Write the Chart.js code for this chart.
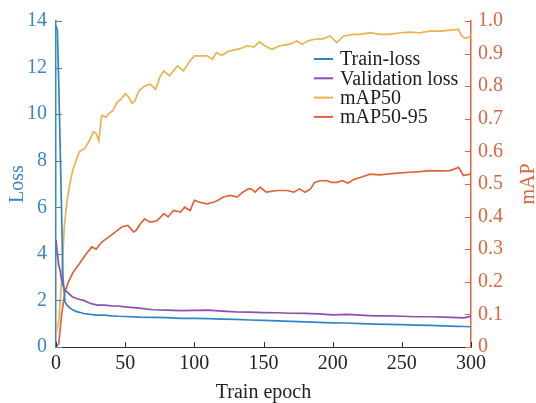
<!DOCTYPE html>
<html>
<head>
<meta charset="utf-8">
<script src="https://cdn.jsdelivr.net/npm/chart.js@4.4.1/dist/chart.umd.min.js"></script>
<style>
  html, body { margin: 0; padding: 0; background: #fff; }
</style>
</head>
<body>
<canvas id="trainChart" width="536" height="403"></canvas>
<script>
/* ---------- data ---------- */
const LOSS_EPOCHS = [0, 1, 2, 3, 4, 5, 6.5, 8, 10, 12, 15, 17, 20, 25, 30, 35, 40, 45, 50,
  60, 70, 80, 90, 100, 110, 120, 130, 140, 150, 160, 170, 180, 190, 200, 210, 220, 230,
  240, 250, 260, 270, 280, 290, 295, 300];

const TRAIN_LOSS = [13.8, 13.6, 11.3, 8.6, 5.9, 3.0, 1.93, 1.8, 1.68, 1.6, 1.52, 1.49, 1.44, 1.40,
  1.37, 1.37, 1.34, 1.32, 1.31, 1.28, 1.27, 1.26, 1.23, 1.23, 1.22, 1.20, 1.19, 1.16, 1.14,
  1.12, 1.10, 1.08, 1.06, 1.04, 1.03, 1.00, 0.98, 0.97, 0.96, 0.94, 0.93, 0.91, 0.89, 0.88, 0.87];

const VAL_LOSS = [4.6, 4.0, 3.5, 3.3, 2.9, 2.65, 2.44, 2.37, 2.25, 2.15, 2.08, 2.04, 2.0, 1.87,
  1.80, 1.80, 1.77, 1.76, 1.72, 1.67, 1.60, 1.58, 1.56, 1.57, 1.58, 1.54, 1.51, 1.50, 1.48,
  1.47, 1.45, 1.44, 1.42, 1.38, 1.40, 1.37, 1.34, 1.34, 1.32, 1.30, 1.30, 1.28, 1.26, 1.25, 1.33];

const MAP50_EPOCHS = [0, 2, 4, 6, 8, 10, 12, 14, 17, 21, 25, 27, 29, 31, 33, 36, 38, 41, 44, 47,
  50, 52, 55, 57, 60, 64, 68, 72, 75, 78, 82, 86, 88, 92, 97, 100, 104, 109, 113, 116, 120,
  125, 131, 135, 138, 143, 147, 151, 156, 162, 169, 174, 178, 182, 187, 193, 198, 203, 208,
  215, 220, 227, 234, 241, 249, 256, 263, 270, 278, 285, 291, 293, 296, 300];

const MAP50 = [0.04, 0.08, 0.20, 0.37, 0.45, 0.50, 0.54, 0.566, 0.60, 0.61, 0.64, 0.66, 0.655,
  0.633, 0.71, 0.705, 0.715, 0.725, 0.75, 0.76, 0.777, 0.77, 0.748, 0.755, 0.786, 0.80, 0.807,
  0.79, 0.827, 0.847, 0.832, 0.853, 0.862, 0.847, 0.878, 0.893, 0.893, 0.893, 0.883, 0.903,
  0.895, 0.908, 0.913, 0.918, 0.924, 0.92, 0.936, 0.924, 0.913, 0.924, 0.929, 0.939, 0.929,
  0.939, 0.944, 0.945, 0.954, 0.934, 0.954, 0.959, 0.959, 0.964, 0.959, 0.959, 0.964, 0.966,
  0.964, 0.969, 0.969, 0.972, 0.974, 0.956, 0.946, 0.954];

const MAP5095_EPOCHS = [0, 2, 4, 6.5, 9, 12.5, 17, 22, 26, 29, 33, 38, 43, 47.5, 52, 56, 58, 61,
  64, 68, 73, 78, 81, 85, 90, 93, 97, 100, 104, 109, 114, 117, 121, 126, 131, 135, 139, 141,
  144, 147.5, 152, 160, 167, 172, 176, 180, 184, 187, 191, 196, 199, 203, 207, 211, 216, 220,
  227, 234, 241, 249, 256, 263, 270, 278, 285, 291, 294.5, 300];

const MAP5095 = [0.0, 0.01, 0.098, 0.17, 0.20, 0.23, 0.256, 0.287, 0.307, 0.30, 0.322, 0.337,
  0.353, 0.368, 0.373, 0.353, 0.358, 0.378, 0.393, 0.383, 0.387, 0.409, 0.399, 0.419, 0.414,
  0.429, 0.419, 0.45, 0.444, 0.439, 0.444, 0.45, 0.46, 0.465, 0.46, 0.475, 0.485, 0.485, 0.475,
  0.49, 0.475, 0.48, 0.48, 0.475, 0.485, 0.475, 0.485, 0.505, 0.51, 0.51, 0.505, 0.505, 0.51,
  0.503, 0.515, 0.52, 0.53, 0.528, 0.531, 0.534, 0.536, 0.538, 0.541, 0.54, 0.541, 0.551,
  0.526, 0.531];

const SERIES_LABELS = ['Train-loss', 'Validation loss', 'mAP50', 'mAP50-95'];

/* ---------- styling ---------- */
const FONT = "'Liberation Serif', 'Times New Roman', serif";
const BLUE = '#3a87c2';
const RED  = '#db6640';
const COLORS = ['#2f86c6', '#8f4fb2', '#ebb24e', '#e0643c'];

const toPoints = (xs, ys) => xs.map((x, i) => ({ x, y: ys[i] }));

/* ---------- decorations: inward ticks, titles, legend ---------- */
function inwardTicks(ctx, scale, color, len) {
  ctx.strokeStyle = color;
  ctx.lineWidth = 1;
  scale.ticks.forEach((t, i) => {
    const p = Math.round(scale.getPixelForTick(i)) + 0.5;
    ctx.beginPath();
    if (scale.position === 'left') { ctx.moveTo(scale.right, p); ctx.lineTo(scale.right + len, p); }
    else if (scale.position === 'right') { ctx.moveTo(scale.left, p); ctx.lineTo(scale.left - len, p); }
    else { ctx.moveTo(p, scale.top); ctx.lineTo(p, scale.top - len); }
    ctx.stroke();
  });
}

function vText(ctx, text, x, y, color) {
  ctx.save();
  ctx.translate(x, y);
  ctx.rotate(-Math.PI / 2);
  ctx.fillStyle = color;
  ctx.textAlign = 'center';
  ctx.textBaseline = 'middle';
  ctx.fillText(text, 0, 0);
  ctx.restore();
}

const axisDecor = {
  id: 'axisDecor',
  afterDraw(chart) {
    const { ctx, chartArea: a, scales } = chart;
    ctx.save();
    inwardTicks(ctx, scales.y, BLUE, 6);
    inwardTicks(ctx, scales.y1, RED, 6);
    inwardTicks(ctx, scales.x, '#333', 5);

    ctx.font = '20px ' + FONT;
    const midY = (a.top + a.bottom) / 2;
    vText(ctx, 'Loss', 18, midY, BLUE);
    vText(ctx, 'mAP', 529, midY, RED);
    ctx.fillStyle = '#222';
    ctx.textAlign = 'center';
    ctx.textBaseline = 'middle';
    ctx.fillText('Train epoch', (a.left + a.right) / 2, 393);

    // legend, no box
    ctx.font = '20px ' + FONT;
    ctx.textAlign = 'left';
    chart.data.datasets.forEach((ds, i) => {
      const y = 59 + i * 19.3;
      ctx.strokeStyle = ds.borderColor;
      ctx.lineWidth = 2;
      ctx.beginPath();
      ctx.moveTo(314, y);
      ctx.lineTo(333, y);
      ctx.stroke();
      ctx.fillStyle = '#1e1e1e';
      ctx.fillText(ds.label, 340, y + 1);
    });
    ctx.restore();
  }
};

/* ---------- chart ---------- */
new Chart(document.getElementById('trainChart'), {
  type: 'line',
  data: {
    datasets: [
      { label: SERIES_LABELS[0], data: toPoints(LOSS_EPOCHS, TRAIN_LOSS), yAxisID: 'y', borderColor: COLORS[0] },
      { label: SERIES_LABELS[1], data: toPoints(LOSS_EPOCHS, VAL_LOSS), yAxisID: 'y', borderColor: COLORS[1] },
      { label: SERIES_LABELS[2], data: toPoints(MAP50_EPOCHS, MAP50), yAxisID: 'y1', borderColor: COLORS[2] },
      { label: SERIES_LABELS[3], data: toPoints(MAP5095_EPOCHS, MAP5095), yAxisID: 'y1', borderColor: COLORS[3] },
    ].map(ds => ({ ...ds, borderWidth: 1.7, pointRadius: 0, tension: 0, fill: false })),
  },
  options: {
    responsive: false,
    animation: false,
    devicePixelRatio: 1,
    layout: { padding: { top: 20, left: 0, right: 0, bottom: 0 } },
    plugins: { legend: { display: false }, tooltip: { enabled: false } },
    scales: {
      x: {
        type: 'linear', min: 0, max: 300,
        ticks: { stepSize: 50, color: '#222', padding: 5, font: { family: FONT, size: 20 }, maxRotation: 0 },
        grid: { display: false, drawTicks: false },
        border: { display: true, color: '#333', width: 1 },
        afterFit(scale) { scale.height = 56; },
      },
      y: {
        position: 'left', min: 0, max: 14,
        ticks: { stepSize: 2, color: BLUE, padding: 9, font: { family: FONT, size: 20 } },
        grid: { display: false, drawTicks: false },
        border: { display: true, color: BLUE, width: 1.5 },
        afterFit(scale) { scale.width = 56; },
      },
      y1: {
        position: 'right', min: 0, max: 1,
        ticks: {
          stepSize: 0.1, color: RED, padding: 7, font: { family: FONT, size: 20 },
          callback: v => (v === 0 ? '0' : v.toFixed(1)),
        },
        grid: { display: false, drawTicks: false },
        border: { display: true, color: RED, width: 1.5 },
        afterFit(scale) { scale.width = 65; },
      },
    },
  },
  plugins: [axisDecor],
});
</script>
</body>
</html>
